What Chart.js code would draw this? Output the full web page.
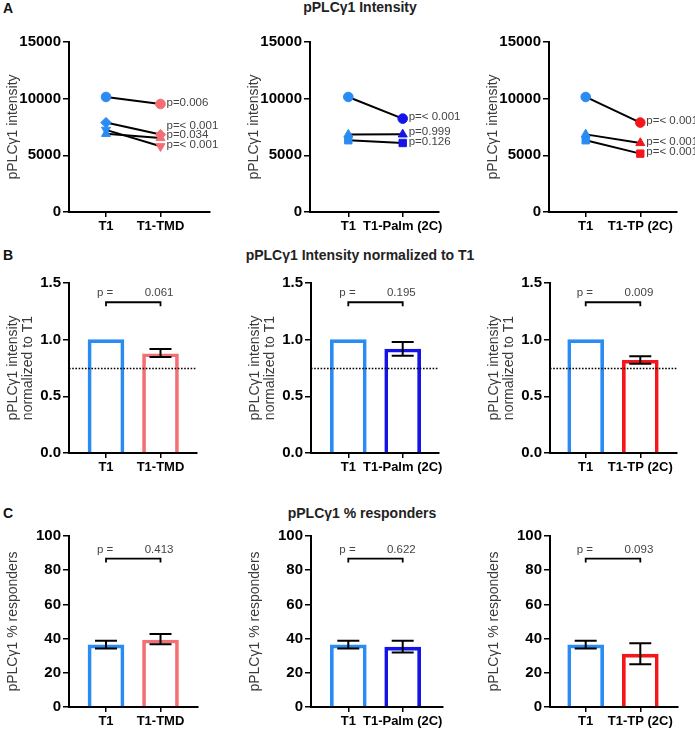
<!DOCTYPE html>
<html>
<head>
<meta charset="utf-8">
<script src="https://cdn.jsdelivr.net/npm/chart.js@4.4.0/dist/chart.umd.min.js"></script>
<style>
  body { margin: 0; width: 695px; height: 732px; position: relative; background: #fff; overflow: hidden;
         font-family: "Liberation Sans", Arial, sans-serif; }
  canvas { position: absolute; }
  .letter { position: absolute; left: 3px; font-weight: bold; font-size: 14px; color: #111; }
  .title { position: absolute; font-weight: bold; font-size: 14px; color: #222; white-space: nowrap; transform: translateX(-50%); }
</style>
</head>
<body>
<div class="letter" style="top:0px">A</div>
<div class="letter" style="top:247px">B</div>
<div class="letter" style="top:505px">C</div>
<div class="title" style="left:360px;top:-1px">pPLCγ1 Intensity</div>
<div class="title" style="left:360px;top:247px">pPLCγ1 Intensity normalized to T1</div>
<div class="title" style="left:362px;top:505px">pPLCγ1 % responders</div>

<script>
// categories
const catsTMD = ["T1", "T1-TMD"];
const catsPalm = ["T1", "T1-Palm (2C)"];
const catsTP = ["T1", "T1-TP (2C)"];

// A: paired intensities per experiment (T1 -> construct)
const aT1_TMD = [10150, 7890, 7250, 6900];
const aTMD = [9530, 6830, 5800, 6530];
const aShapesTMD = ["circle", "diamond", "invTriangle", "triangle"];
const aP_TMD = ["p=0.006", "p=< 0.001", "p=< 0.001", "p=0.034"];

const aT1_Palm = [10150, 6830, 6330];
const aPalm = [8240, 6850, 6090];
const aShapesPalm = ["circle", "triangle", "rect"];
const aP_Palm = ["p=< 0.001", "p=0.999", "p=0.126"];

const aT1_TP = [10150, 6850, 6330];
const aTP = [7890, 6090, 5150];
const aShapesTP = ["circle", "triangle", "rect"];
const aP_TP = ["p=< 0.001", "p=< 0.001", "p=< 0.001"];

// B: intensity normalized to T1 (mean, error low, error high)
const bMeanTMD = [1.0, 0.876], bLoTMD = [null, 0.847], bHiTMD = [null, 0.918];
const bMeanPalm = [1.0, 0.918], bLoPalm = [null, 0.859], bHiPalm = [null, 0.979];
const bMeanTP = [1.0, 0.818], bLoTP = [null, 0.788], bHiTP = [null, 0.853];
const bRefLine = 0.745;
const bP = ["0.061", "0.195", "0.009"];

// C: % responders
const cMeanTMD = [36.3, 39.2], cLoTMD = [34.2, 36.7], cHiTMD = [38.8, 42.7];
const cMeanPalm = [36.3, 35.0], cLoPalm = [34.2, 31.8], cHiPalm = [38.8, 38.8];
const cMeanTP = [36.3, 30.9], cLoTP = [34.2, 25.0], cHiTP = [38.8, 37.3];
const cP = ["0.413", "0.622", "0.093"];

const colT1 = "#2a8cf2", colTMD = "#f46f73", colPalm = "#1414e8", colTP = "#f4161b";

Chart.defaults.font.family = '"Liberation Sans", Arial, sans-serif';
Chart.defaults.animation = false;
Chart.defaults.plugins.legend.display = false;
Chart.defaults.plugins.tooltip.enabled = false;

const YW = 69, PT = 24, XH = 30;

function scalesFor(g, cats, ymax, step, yTitle, fmt) {
  const unit = g.c1 - g.c0;
  return {
    x: {
      type: "linear", offset: false,
      min: -(g.c0 - g.l) / unit, max: 1 + (g.r - g.c1) / unit,
      afterBuildTicks: s => { s.ticks = [{ value: 0 }, { value: 1 }]; },
      afterFit: s => { s.height = XH; },
      ticks: { callback: v => cats[v], font: { size: 13, weight: "bold" }, color: "#000",
               padding: 2, maxRotation: 0, autoSkip: false },
      grid: { drawOnChartArea: false, color: "#000", lineWidth: 1.5, tickLength: 5, offset: false },
      border: { color: "#000", width: 2 }
    },
    y: {
      min: 0, max: ymax,
      afterFit: s => { s.width = YW; },
      ticks: { stepSize: step, callback: fmt, font: { size: 15, weight: "bold" }, color: "#000", padding: 2 },
      grid: { drawOnChartArea: false, color: "#000", lineWidth: 1.5, tickLength: 6 },
      border: { color: "#000", width: 2 },
      title: { display: true, text: yTitle, font: { size: 14, lineHeight: 1.1 }, color: "#3a3a3a",
               padding: { top: 5, bottom: 0 } }
    }
  };
}

function mount(g, config) {
  const cv = document.createElement("canvas");
  const left = g.l - YW, top = g.t - PT;
  const w = Math.round(g.r - left + g.pr), h = Math.round(g.b - top + XH);
  cv.width = w; cv.height = h;
  cv.style.left = left + "px"; cv.style.top = top + "px";
  cv.style.width = w + "px"; cv.style.height = h + "px";
  document.body.appendChild(cv);
  config.options.responsive = false;
  config.options.layout = { padding: { top: PT, right: w - (g.r - left), left: 0, bottom: 0 } };
  new Chart(cv, config);
}

// p labels next to the paired points, pushed apart when they crowd
const pairLabels = {
  id: "pairLabels",
  afterDatasetsDraw(chart, args, o) {
    const { ctx, scales: { x, y } } = chart;
    const items = o.values.map((v, i) => ({ py: y.getPixelForValue(v), t: o.texts[i] }))
      .sort((a, b) => b.py - a.py);
    let last = Infinity;
    ctx.save();
    ctx.font = '11.5px "Liberation Sans", Arial, sans-serif';
    ctx.fillStyle = "#444";
    ctx.textBaseline = "middle";
    items.forEach(it => {
      const yy = Math.min(it.py, last - 9.5);
      last = yy;
      ctx.fillText(it.t, x.getPixelForValue(1) + 6, yy - 1.5);
    });
    ctx.restore();
  }
};

// error bars, reference line and p bracket for the bar panels
const barExtras = {
  id: "barExtras",
  afterDatasetsDraw(chart, args, o) {
    const { ctx, chartArea, scales: { x, y } } = chart;
    ctx.save();
    ctx.strokeStyle = "#000";
    if (o.refLine != null) {
      const ry = y.getPixelForValue(o.refLine);
      ctx.lineWidth = 1.6;
      ctx.setLineDash([1.6, 1.6]);
      ctx.beginPath(); ctx.moveTo(chartArea.left, ry); ctx.lineTo(chartArea.right, ry); ctx.stroke();
      ctx.setLineDash([]);
    }
    ctx.lineWidth = 2;
    o.lo.forEach((lo, i) => {
      if (lo == null) return;
      const px = x.getPixelForValue(i), a = y.getPixelForValue(lo), b = y.getPixelForValue(o.hi[i]);
      ctx.beginPath();
      ctx.moveTo(px, a); ctx.lineTo(px, b);
      ctx.moveTo(px - 11, a); ctx.lineTo(px + 11, a);
      ctx.moveTo(px - 11, b); ctx.lineTo(px + 11, b);
      ctx.stroke();
    });
    const by = y.getPixelForValue(o.bracket), x0 = x.getPixelForValue(0), x1 = x.getPixelForValue(1);
    ctx.lineWidth = 1.8;
    ctx.beginPath();
    ctx.moveTo(x0, by + 4); ctx.lineTo(x0, by); ctx.lineTo(x1, by); ctx.lineTo(x1, by + 4);
    ctx.stroke();
    ctx.font = '11.5px "Liberation Sans", Arial, sans-serif';
    ctx.fillStyle = "#444";
    ctx.textBaseline = "middle";
    ctx.textAlign = "left";
    ctx.fillText("p =", x0 - 9, by - 9);
    ctx.textAlign = "right";
    ctx.fillText(o.p, x1 + 13, by - 9);
    ctx.restore();
  }
};

const styleOf = { circle: "circle", diamond: "rectRot", triangle: "triangle", invTriangle: "triangle", rect: "rect" };

function pairedPanel(g, cats, t1, tr, shapes, pLabels, trColor) {
  const datasets = t1.map((v, i) => ({
    data: [{ x: 0, y: v }, { x: 1, y: tr[i] }],
    borderColor: "#000", borderWidth: 2,
    pointStyle: styleOf[shapes[i]],
    rotation: shapes[i] === "invTriangle" ? 180 : 0,
    pointRadius: shapes[i] === "circle" ? 4.8 : 5.2,
    pointBackgroundColor: [colT1, trColor], pointBorderColor: [colT1, trColor], pointBorderWidth: 1
  }));
  mount(g, {
    type: "line",
    data: { datasets },
    options: {
      scales: scalesFor(g, cats, 15000, 5000, "pPLCγ1 intensity", v => v),
      plugins: { pairLabels: { values: tr, texts: pLabels } }
    },
    plugins: [pairLabels]
  });
}

function barPanel(g, cats, mean, lo, hi, trColor, ymax, step, yTitle, fmt, bracket, p, refLine) {
  mount(g, {
    type: "bar",
    data: {
      datasets: [{
        data: mean.map((v, i) => ({ x: i, y: v })),
        backgroundColor: "rgba(255,255,255,0)",
        borderColor: [colT1, trColor], borderWidth: 3, borderSkipped: "start",
        barThickness: 36
      }]
    },
    options: {
      scales: scalesFor(g, cats, ymax, step, yTitle, fmt),
      plugins: { barExtras: { lo, hi, bracket, p, refLine } }
    },
    plugins: [barExtras]
  });
}

// row A
pairedPanel({ l: 69, r: 210, c0: 106, c1: 160.5, t: 42, b: 212, pr: 20 }, catsTMD, aT1_TMD, aTMD, aShapesTMD, aP_TMD, colTMD);
pairedPanel({ l: 310, r: 439, c0: 348.3, c1: 402.7, t: 42, b: 212, pr: 30 }, catsPalm, aT1_Palm, aPalm, aShapesPalm, aP_Palm, colPalm);
pairedPanel({ l: 549, r: 677, c0: 585.7, c1: 640.3, t: 42, b: 212, pr: 18 }, catsTP, aT1_TP, aTP, aShapesTP, aP_TP, colTP);

// row B
const bTitle = ["pPLCγ1 intensity", "normalized to T1"];
const fmt1 = v => v.toFixed(1);
barPanel({ l: 69, r: 197, c0: 106, c1: 160.5, t: 283, b: 453, pr: 12 }, catsTMD, bMeanTMD, bLoTMD, bHiTMD, colTMD, 1.5, 0.5, bTitle, fmt1, 1.33, bP[0], bRefLine);
barPanel({ l: 311, r: 439, c0: 348.3, c1: 402.7, t: 283, b: 453, pr: 12 }, catsPalm, bMeanPalm, bLoPalm, bHiPalm, colPalm, 1.5, 0.5, bTitle, fmt1, 1.33, bP[1], bRefLine);
barPanel({ l: 550, r: 677, c0: 585.7, c1: 640.3, t: 283, b: 453, pr: 12 }, catsTP, bMeanTP, bLoTP, bHiTP, colTP, 1.5, 0.5, bTitle, fmt1, 1.33, bP[2], bRefLine);

// row C
const cTitle = "pPLCγ1 % responders";
barPanel({ l: 69, r: 198, c0: 106, c1: 160.5, t: 536, b: 707, pr: 12 }, catsTMD, cMeanTMD, cLoTMD, cHiTMD, colTMD, 100, 20, cTitle, v => v, 86.8, cP[0], null);
barPanel({ l: 311, r: 443, c0: 348.3, c1: 402.7, t: 536, b: 707, pr: 12 }, catsPalm, cMeanPalm, cLoPalm, cHiPalm, colPalm, 100, 20, cTitle, v => v, 86.8, cP[1], null);
barPanel({ l: 550, r: 678, c0: 585.7, c1: 640.3, t: 536, b: 707, pr: 12 }, catsTP, cMeanTP, cLoTP, cHiTP, colTP, 100, 20, cTitle, v => v, 86.8, cP[2], null);
</script>
</body>
</html>
